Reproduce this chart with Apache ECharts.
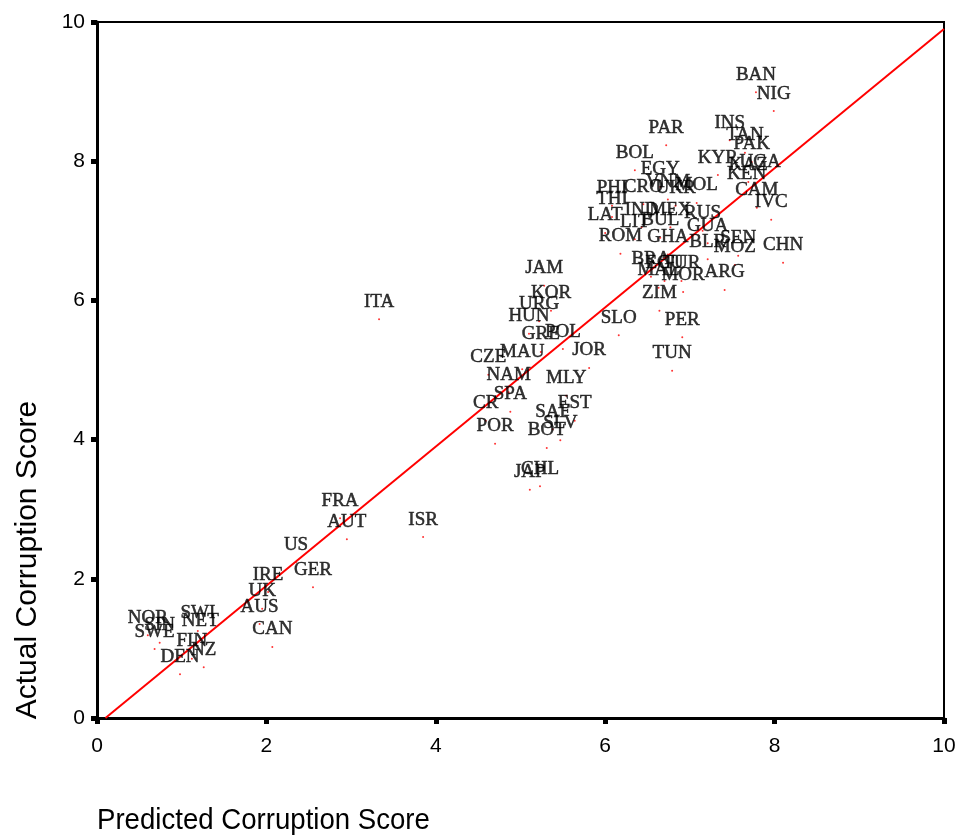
<!DOCTYPE html>
<html><head><meta charset="utf-8">
<script src="https://cdn.jsdelivr.net/npm/echarts@6/dist/echarts.min.js"></script>
<style>html,body{margin:0;padding:0;background:#fff}#c{width:964px;height:840px}</style>
</head><body><div id="c"></div>
<script>
const countries = ["BAN","NIG","INS","PAR","TAN","PAK","BOL","KYR","KAZ","UGA","KEN","EGY","MOL","VNM","UKR","CRO","CAM","PHI","THI","IVC","IND","MEX","RUS","LAT","LIT","BUL","ROM","GHA","GUA","SEN","BLR","MOZ","CHN","BRA","ECU","TUR","MAL","ARG","MOR","ZIM","JAM","KOR","URG","HUN","SLO","PER","GRE","POL","MAU","JOR","TUN","CZE","NAM","MLY","SPA","CR","EST","SAF","SLV","BOT","POR","JAP","CHL","ITA","FRA","AUT","ISR","US","GER","IRE","UK","AUS","CAN","NOR","SWI","NET","SIN","SWE","FIN","NZ","DEN"];
const predicted = [7.78,7.99,7.47,6.72,7.65,7.73,6.35,7.33,7.69,7.83,7.67,6.65,7.08,6.74,6.83,6.45,7.79,6.08,6.08,7.96,6.43,6.77,7.15,6.00,6.35,6.65,6.18,6.74,7.21,7.57,7.21,7.53,8.10,6.54,6.70,6.90,6.63,7.41,6.92,6.64,5.28,5.36,5.22,5.10,6.16,6.91,5.24,5.50,5.02,5.81,6.79,4.62,4.86,5.54,4.88,4.59,5.64,5.38,5.47,5.31,4.70,5.11,5.23,3.33,2.87,2.95,3.85,2.35,2.55,2.02,1.95,1.92,2.07,0.60,1.19,1.22,0.74,0.68,1.12,1.26,0.98];
const actual = [8.99,8.72,8.30,8.23,8.12,7.99,7.87,7.80,7.70,7.73,7.57,7.63,7.40,7.45,7.36,7.38,7.33,7.36,7.20,7.16,7.05,7.05,7.00,6.97,6.88,6.90,6.67,6.66,6.82,6.64,6.59,6.51,6.54,6.34,6.28,6.28,6.18,6.15,6.12,5.85,6.21,5.85,5.70,5.52,5.50,5.47,5.26,5.30,5.01,5.03,4.99,4.93,4.68,4.63,4.40,4.27,4.27,4.15,3.99,3.88,3.94,3.28,3.33,5.73,2.87,2.57,2.60,2.24,1.88,1.81,1.57,1.35,1.02,1.19,1.25,1.14,1.08,0.99,0.85,0.73,0.63];
const fitX = [0.1, 10];
const fitY = [0.0, 9.9];
const ticks = [0,2,4,6,8,10];

const pts = countries.map((c,i)=>({name:c, value:[predicted[i], actual[i]]}));
const chart = echarts.init(document.getElementById('c'), null, {renderer:'canvas'});
const axisCommon = {
  min:0, max:10, interval:2,
  splitLine:{show:false},
  axisLine:{show:true, onZero:false, lineStyle:{color:'#000', width:3}},
  axisTick:{show:true, length:6, lineStyle:{color:'#000', width:5}},
  axisLabel:{color:'#000', fontFamily:'Liberation Sans, Arial', fontSize:21,
    formatter:v=>ticks.includes(v)?String(v):''}
};
chart.setOption({
  animation:false,
  backgroundColor:'#fff',
  grid:{left:97, right:20, top:22, bottom:122, show:true, borderColor:'#000', borderWidth:2, backgroundColor:'transparent'},
  xAxis:Object.assign({type:'value'}, axisCommon, {axisLabel:Object.assign({}, axisCommon.axisLabel, {margin:18})}),
  yAxis:Object.assign({type:'value'}, axisCommon, {axisLabel:Object.assign({}, axisCommon.axisLabel, {margin:12})}),
  graphic:[
    {type:'text', x:97, y:821, scaleX:0.92, style:{text:'Predicted Corruption Score', fill:'#000', font:'30px "Liberation Sans", Arial', align:'left', verticalAlign:'middle'}},
    {type:'text', x:28, y:560, rotation:Math.PI/2, style:{text:'Actual Corruption Score', fill:'#000', font:'30px "Liberation Sans", Arial', align:'center', verticalAlign:'middle'}}
  ],
  series:[
    {type:'line', data:fitX.map((x,i)=>[x, fitY[i]]), symbol:'none', lineStyle:{color:'#ff0000', width:2}, silent:true, z:3},
    {type:'scatter', data:pts, symbolSize:2, itemStyle:{color:'#ff0000'}, z:4,
      label:{show:true, position:'top', distance:7, formatter:p=>p.name, color:'#000',
        textBorderColor:'#000', textBorderWidth:0.5,
        fontFamily:'Liberation Serif, Times New Roman, serif', fontSize:19}}
  ]
});
</script></body></html>
